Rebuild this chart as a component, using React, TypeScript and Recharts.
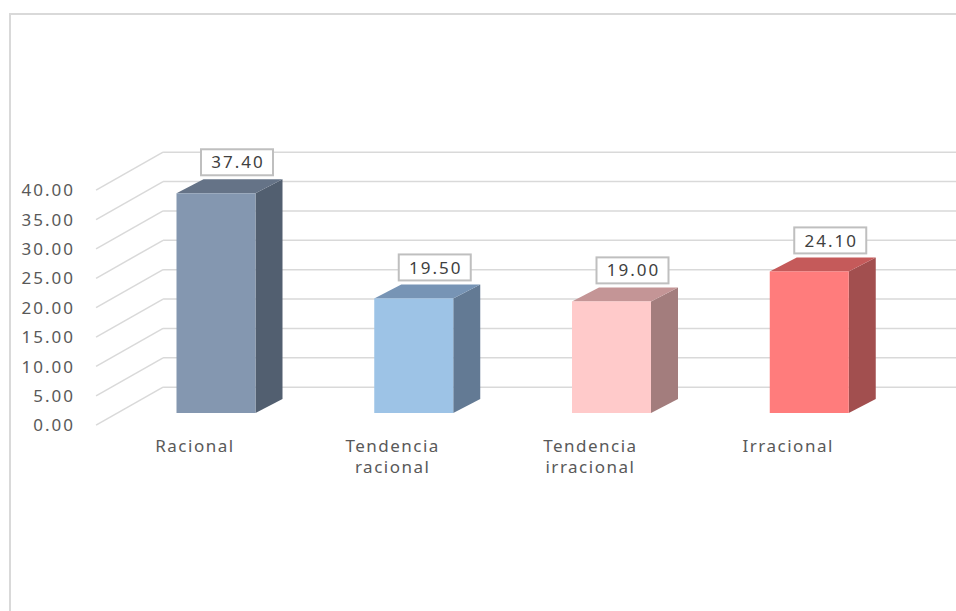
import React from "react";
import {
  Bar,
  BarChart,
  CartesianGrid,
  LabelList,
  XAxis,
  YAxis,
} from "recharts";

const categories = [
  "Racional",
  "Tendencia racional",
  "Tendencia irracional",
  "Irracional",
];
const values = [37.4, 19.5, 19.0, 24.1];
const yTicks = [0, 5, 10, 15, 20, 25, 30, 35, 40];

const frontColors = ["#8497b0", "#9dc3e6", "#ffcaca", "#ff7c7c"];
const topColors = ["#657387", "#7794b5", "#c49596", "#c55a5a"];
const sideColors = ["#525f70", "#637a94", "#a37d7d", "#a24f4f"];

const data = categories.map((name, i) => ({ name, value: values[i] }));

// 3d look: floor depth and where the bar front sits inside it
const FLOOR_DX = 67;
const FLOOR_DY = -38;
const BAR_AT = 0.32;
const BAR_DX = 27;
const BAR_DY = -14;
const GRID = "#d9d9d9";
const FONT = "'Noto Sans', sans-serif";

const GridLine = (props: any) => {
  const { x1, y1 } = props;
  const fx = x1 - BAR_AT * FLOOR_DX;
  const fy = y1 - BAR_AT * FLOOR_DY;
  const bx = fx + FLOOR_DX;
  const by = fy + FLOOR_DY;
  return (
    <g key={props.key}>
      <line x1={fx} y1={fy} x2={bx} y2={by} stroke={GRID} strokeWidth={1.5} />
      <line x1={bx} y1={by} x2={956} y2={by} stroke={GRID} strokeWidth={1.5} />
    </g>
  );
};

const Prism = (props: any) => {
  const { x, y, width: w, height: h, index } = props;
  return (
    <g>
      <polygon
        points={`${x + w},${y} ${x + w + BAR_DX},${y + BAR_DY} ${x + w + BAR_DX},${y + h + BAR_DY} ${x + w},${y + h}`}
        fill={sideColors[index]}
      />
      <polygon
        points={`${x},${y} ${x + BAR_DX},${y + BAR_DY} ${x + w + BAR_DX},${y + BAR_DY} ${x + w},${y}`}
        fill={topColors[index]}
      />
      <rect x={x} y={y} width={w} height={h} fill={frontColors[index]} />
    </g>
  );
};

const ValueBox = (props: any) => {
  const { x, y, width, value } = props;
  const cx = x + width / 2 + 21;
  const bottom = y - 18;
  return (
    <g>
      <rect
        x={cx - 36}
        y={bottom - 26}
        width={72}
        height={26}
        fill="#ffffff"
        stroke="#bfbfbf"
        strokeWidth={2}
      />
      <text
        x={cx + 1}
        y={bottom - 13}
        dy="0.36em"
        textAnchor="middle"
        fill="#404040"
        fontSize={17}
        letterSpacing={2}
        fontFamily={FONT}
      >
        {Number(value).toFixed(2)}
      </text>
    </g>
  );
};

const CategoryTick = (props: any) => {
  const { x, y, payload } = props;
  const words: string[] = String(payload.value).split(" ");
  const cx = x - BAR_AT * FLOOR_DX;
  return (
    <text
      x={cx}
      y={y}
      textAnchor="middle"
      fill="#595959"
      fontSize={17}
      letterSpacing={1.5}
      fontFamily={FONT}
    >
      {words.map((w, i) => (
        <tspan key={i} x={cx} dy={i === 0 ? 31 : 21}>
          {w}
        </tspan>
      ))}
    </text>
  );
};

const ValueTick = (props: any) => {
  const { y, payload } = props;
  return (
    <text
      x={75}
      y={y - BAR_AT * FLOOR_DY}
      dy="0.36em"
      textAnchor="end"
      fill="#595959"
      fontSize={17}
      letterSpacing={2}
      fontFamily={FONT}
    >
      {Number(payload.value).toFixed(2)}
    </text>
  );
};

export default function App() {
  return (
    <div
      style={{
        position: "absolute",
        left: 0,
        top: 0,
        width: 956,
        height: 611,
        overflow: "hidden",
        background: "#ffffff",
      }}
    >
      <div
        style={{
          position: "absolute",
          left: 9,
          top: 13,
          width: 1100,
          height: 800,
          border: "2px solid #d9d9d9",
        }}
      />
      <div style={{ position: "absolute", left: 0, top: 0 }}>
        <BarChart
          width={956}
          height={611}
          data={data}
          margin={{ top: 178, right: 47.5, bottom: 168, left: 97.5 }}
        >
          <CartesianGrid vertical={false} horizontal={GridLine} />
          <XAxis
            dataKey="name"
            height={30}
            axisLine={false}
            tickLine={false}
            interval={0}
            tick={CategoryTick}
          />
          <YAxis
            width={20}
            domain={[0, 40]}
            ticks={yTicks}
            axisLine={false}
            tickLine={false}
            tick={ValueTick}
          />
          <Bar dataKey="value" barSize={79} shape={Prism} isAnimationActive={false}>
            <LabelList dataKey="value" content={ValueBox} />
          </Bar>
        </BarChart>
      </div>
    </div>
  );
}
